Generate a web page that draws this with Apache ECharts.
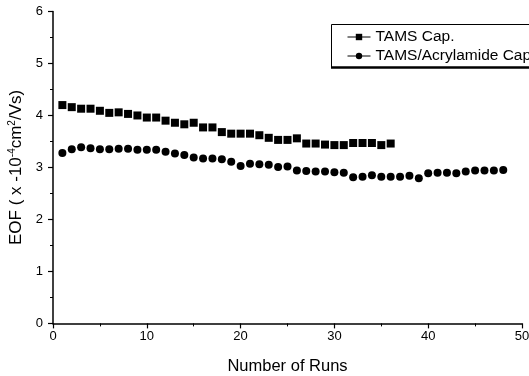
<!DOCTYPE html>
<html><head><meta charset="utf-8">
<script src="https://cdn.jsdelivr.net/npm/echarts@6/dist/echarts.min.js"></script>
<style>html,body{margin:0;padding:0;background:#fff}#c{width:529px;height:376px}</style>
</head><body><div id="c"></div>
<script>
const runsTAMS = [1,2,3,4,5,6,7,8,9,10,11,12,13,14,15,16,17,18,19,20,21,22,23,24,25,26,27,28,29,30,31,32,33,34,35,36];
const eofTAMS = [4.20,4.16,4.13,4.13,4.09,4.05,4.06,4.03,4.00,3.96,3.96,3.90,3.86,3.83,3.86,3.77,3.77,3.68,3.65,3.65,3.65,3.62,3.57,3.53,3.53,3.56,3.46,3.46,3.44,3.43,3.43,3.47,3.47,3.47,3.43,3.46];
const runsAcryl = [1,2,3,4,5,6,7,8,9,10,11,12,13,14,15,16,17,18,19,20,21,22,23,24,25,26,27,28,29,30,31,32,33,34,35,36,37,38,39,40,41,42,43,44,45,46,47,48];
const eofAcryl = [3.28,3.35,3.39,3.37,3.35,3.35,3.36,3.36,3.34,3.34,3.34,3.30,3.27,3.24,3.19,3.17,3.17,3.16,3.11,3.03,3.07,3.06,3.05,3.01,3.02,2.94,2.93,2.92,2.92,2.91,2.90,2.81,2.82,2.85,2.82,2.82,2.82,2.84,2.79,2.89,2.90,2.90,2.89,2.92,2.94,2.94,2.94,2.95];
const seriesNames = ['TAMS Cap.', 'TAMS/Acrylamide Cap.'];
const xTicks = [0, 10, 20, 30, 40, 50];
const yTicks = [0, 1, 2, 3, 4, 5, 6];
const xTitle = 'Number of Runs';

const FF = "'Liberation Sans', Arial, sans-serif";
const chart = echarts.init(document.getElementById('c'), null, {renderer: 'canvas'});
const pair = (xs, ys) => xs.map((x, i) => [x, ys[i]]);
const axisCommon = {
  axisLine: {show: true, lineStyle: {color: '#000', width: 1.5}},
  axisTick: {show: true, inside: false, length: 5, lineStyle: {color: '#000', width: 1.2}},
  minorTick: {show: true, splitNumber: 2, length: 3, lineStyle: {color: '#000', width: 1}},
  splitLine: {show: false},
  axisLabel: {color: '#000', fontFamily: FF, fontSize: 13}
};
chart.setOption({
  animation: false,
  backgroundColor: '#fff',
  grid: {left: 53, right: 7, top: 11.5, bottom: 52.6, containLabel: false, outerBoundsMode: 'none'},
  xAxis: Object.assign({}, axisCommon, {
    type: 'value', min: xTicks[0], max: xTicks[xTicks.length - 1], interval: 10,
    name: xTitle, nameLocation: 'middle', nameGap: 35,
    nameTextStyle: {color: '#000', fontFamily: FF, fontSize: 16.5},
    axisLabel: Object.assign({}, axisCommon.axisLabel, {margin: 7, showMaxLabel: true, showMinLabel: true, hideOverlap: false})
  }),
  yAxis: Object.assign({}, axisCommon, {
    type: 'value', min: yTicks[0], max: yTicks[yTicks.length - 1], interval: 1,
    name: '{a|EOF ( x -10}{s|-4}{a|cm}{s|2}{a|/Vs)}', nameLocation: 'middle', nameGap: 27,
    nameTextStyle: {color: '#000', fontFamily: FF, fontSize: 17,
      rich: {a: {fontFamily: FF, fontSize: 17, color: '#000'}, s: {fontFamily: FF, fontSize: 10, color: '#000', padding: [0, 0, 8, 0]}}},
    axisLabel: Object.assign({}, axisCommon.axisLabel, {margin: 10})
  }),
  legend: {
    orient: 'vertical', left: 330, top: 24,
    padding: [5, 4, 3, 17], itemGap: 3, itemWidth: 23, itemHeight: 8,
    textStyle: {color: '#000', fontFamily: FF, fontSize: 15.5},
    lineStyle: {opacity: 1, width: 1, color: '#000'},
    data: seriesNames
  },
  graphic: [
    {type: 'rect', left: 331, top: 24, z: -1, shape: {width: 260, height: 43},
      style: {fill: '#fff', stroke: '#000', lineWidth: 1}},
    {type: 'line', z: 10, shape: {x1: 331, y1: 67.5, x2: 540, y2: 67.5}, style: {stroke: '#000', lineWidth: 2.5}}
  ],
  series: [
    {name: seriesNames[0], type: 'line', data: pair(runsTAMS, eofTAMS), symbol: 'rect', symbolSize: 8,
      itemStyle: {color: '#000'}, lineStyle: {opacity: 0, color: '#000'}, showAllSymbol: true},
    {name: seriesNames[1], type: 'line', data: pair(runsAcryl, eofAcryl), symbol: 'circle', symbolSize: 8,
      itemStyle: {color: '#000'}, lineStyle: {opacity: 0, color: '#000'}, showAllSymbol: true}
  ]
});
</script></body></html>
